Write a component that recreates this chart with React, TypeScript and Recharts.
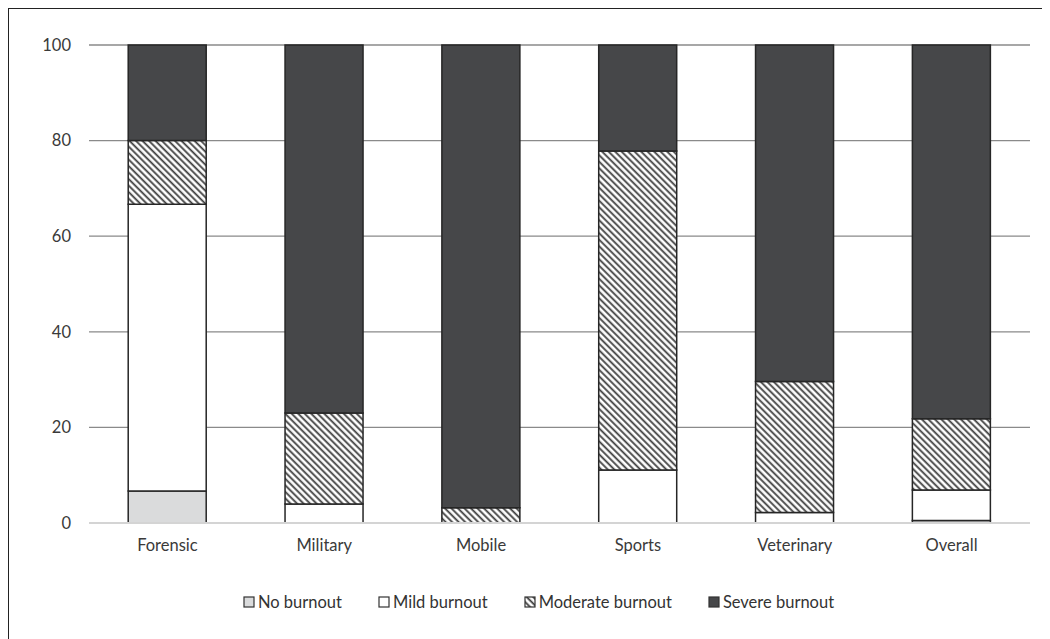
import { BarChart, Bar, XAxis, YAxis, CartesianGrid } from "recharts";

const categories = ["Forensic", "Military", "Mobile", "Sports", "Veterinary", "Overall"];
const noBurnout = [6.7, 0, 0, 0, 0, 0.5];
const mildBurnout = [60, 4, 0, 11.1, 2.2, 6.4];
const moderateBurnout = [13.3, 19, 3.2, 66.7, 27.4, 14.9];
const severeBurnout = [20, 77, 96.8, 22.2, 70.4, 78.2];
const yTicks = [0, 20, 40, 60, 80, 100];

const data = categories.map((name, i) => ({
  name,
  none: noBurnout[i],
  mild: mildBurnout[i],
  moderate: moderateBurnout[i],
  severe: severeBurnout[i],
}));

const series = [
  { key: "none", label: "No burnout", fill: "#dadbdc" },
  { key: "mild", label: "Mild burnout", fill: "#ffffff" },
  { key: "moderate", label: "Moderate burnout", fill: "url(#hatch)" },
  { key: "severe", label: "Severe burnout", fill: "#464749" },
];

const font = "Lato, 'Noto Sans', sans-serif";

function LegendRow() {
  return (
    <div style={{ display: "flex", justifyContent: "center", gap: 36, fontFamily: font, fontSize: 16.5, color: "#333" }}>
      {series.map((s) => (
        <div key={s.key} style={{ display: "flex", alignItems: "center" }}>
          <svg width={12} height={12} style={{ marginRight: 3 }}>
            <rect x={1} y={1} width={10} height={10} fill={s.fill} stroke="#333" strokeWidth={1.2} />
          </svg>
          <span>{s.label}</span>
        </div>
      ))}
    </div>
  );
}

export default function App() {
  return (
    <div
      style={{
        position: "relative",
        width: 1041,
        height: 630,
        borderTop: "1px solid #222",
        borderLeft: "1.5px solid #222",
        background: "#fff",
      }}
    >
      <svg width={0} height={0} style={{ position: "absolute" }}>
        <defs>
          <pattern id="hatch" patternUnits="userSpaceOnUse" width={4.6} height={4.6} patternTransform="rotate(-45)">
            <rect width={4.6} height={4.6} fill="#fff" />
            <line x1={1.2} y1={0} x2={1.2} y2={4.6} stroke="#3c3c3c" strokeWidth={1.8} />
          </pattern>
        </defs>
      </svg>
      <BarChart
        width={1035}
        height={560}
        data={data}
        margin={{ top: 36, right: 14, left: 20, bottom: 16 }}
        barCategoryGap="25%"
      >
        <CartesianGrid vertical={false} stroke="#8a8a8a" strokeWidth={1.3} />
        <XAxis
          dataKey="name"
          axisLine={{ stroke: "#d4d4d4", strokeWidth: 2 }}
          tickLine={false}
          tickMargin={10}
          tick={{ fill: "#3a3a3a", fontSize: 16.5, fontFamily: font }}
        />
        <YAxis
          width={60}
          domain={[0, 100]}
          ticks={yTicks}
          axisLine={false}
          tickLine={false}
          tickMargin={12}
          tick={{ fill: "#3a3a3a", fontSize: 16.5, fontFamily: font }}
        />
        {series.map((s) => (
          <Bar
            key={s.key}
            dataKey={s.key}
            stackId="a"
            fill={s.fill}
            stroke="#262626"
            strokeWidth={1.5}
            isAnimationActive={false}
          />
        ))}
      </BarChart>
      <div style={{ position: "absolute", top: 583, left: 9, width: 1041 }}>
        <LegendRow />
      </div>
    </div>
  );
}
